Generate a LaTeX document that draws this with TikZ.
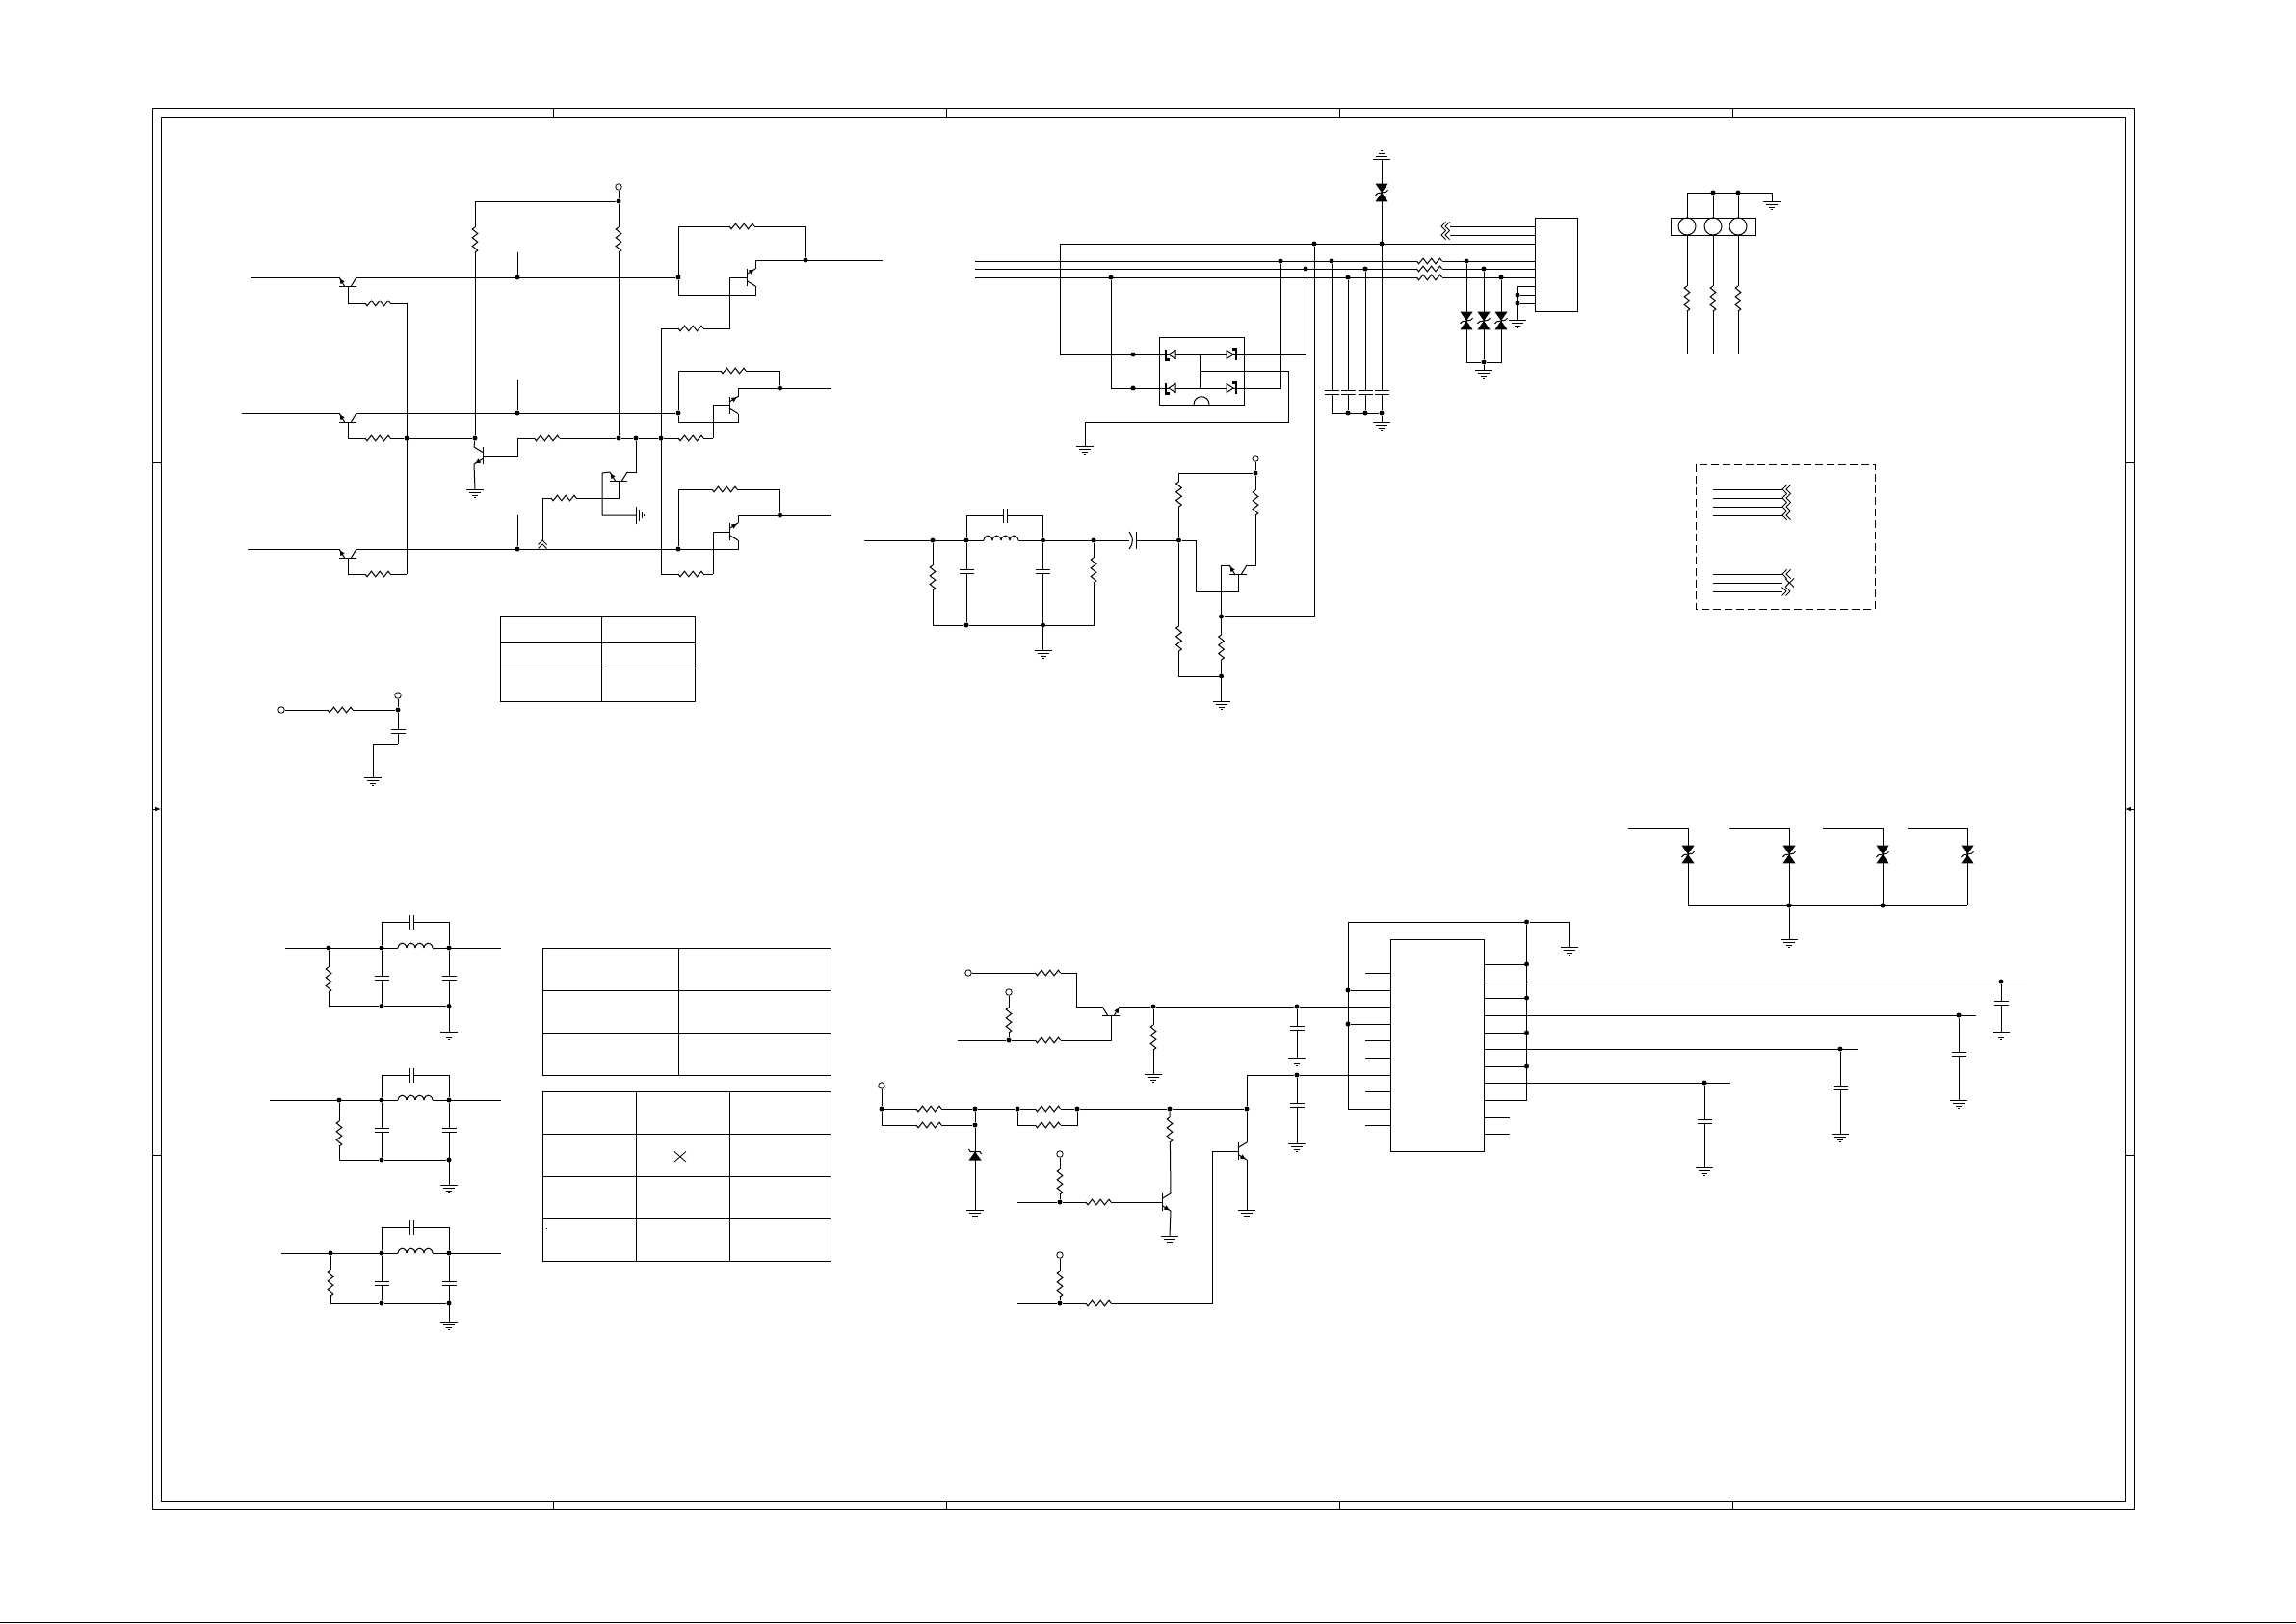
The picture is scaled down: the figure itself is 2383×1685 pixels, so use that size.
\documentclass[tikz,border=0pt]{standalone}
\usetikzlibrary{calc}

\tikzset{
  respic/.pic={
    \fill[white] (-13,-1) rectangle (13,1);
    \draw (-13,0) -- (-11,2.8) -- (-6.5,-2.8) -- (-2.2,2.8) -- (2.2,-2.8) -- (6.5,2.8) -- (11,-2.8) -- (13,0);
  },
  cappic/.pic={
    \fill[white] (-2,-2) rectangle (2,2);
    \draw (-7.5,-2) -- (7.5,-2);
    \draw (-7.5,2) -- (7.5,2);
  },
  indpic/.pic={
    \fill[white] (-18,-1) rectangle (18,1);
    \foreach \i in {-18,-9,0,9}
      \draw (\i,0) .. controls (\i+1,-6.5) and (\i+8,-6.5) .. (\i+9,0);
  },
  gndpic/.pic={
    \draw (-9,0) -- (9,0);
    \draw (-6,3) -- (6,3);
    \draw (-3,6) -- (3,6);
    \draw (-1,8.8) -- (1,8.8);
  },
  tvspic/.pic={
    \fill (-6.5,-9.3) -- (6.5,-9.3) -- (0,0) -- cycle;
    \fill (-6.5,9.3) -- (6.5,9.3) -- (0,0) -- cycle;
    \draw (-6.5,2.8) -- (-4.5,0.8) -- (4.5,-0.8) -- (6.5,-2.8);
  },
  zenpic/.pic={
    \fill (-6.5,4.5) -- (6.5,4.5) -- (0,-4.5) -- cycle;
    \draw (-6.5,-7) -- (-5,-4.5) -- (5,-4.5) -- (6.5,-2);
  },
  chevpic/.pic={
    \draw (4.5,-4.5) -- (0,0) -- (4.5,4.5);
    \draw (8.5,-4.5) -- (4,0) -- (8.5,4.5);
  },
  bjtpic/.pic={
    \draw (0,-9) -- (0,9);
    \draw (0,-3.5) -- (9,-9);
    \draw (0,3.5) -- (9,9);
    \fill (7.5,8.2) -- (1.8,7.6) -- (4.6,3.4) -- cycle;
    \coordinate (-b) at (0,0);
    \coordinate (-c) at (9,-9);
    \coordinate (-e) at (9,9);
  },
  swpic/.pic={
    \draw[line width=2.2bp] (-4,-5.5) -- (-4,5.5) -- (0,5.5);
    \fill[white] (-1,-1) rectangle (6,1);
    \draw (6,-4.5) -- (-1,0) -- (6,4.5) -- cycle;
  }
}

\begin{document}
\begin{tikzpicture}[x=1bp, y=-1bp, line width=1bp]
    \tikzstyle{jdot} = [shape=circle, fill=black, inner sep=0pt, minimum size=5bp]
    \tikzstyle{opin} = [shape=circle, draw=black, fill=white, inner sep=0pt, minimum size=6.5bp, line width=0.8bp]
    \tikzstyle{block} = [shape=rectangle, draw=black, inner sep=0pt, outer sep=0pt]
    \useasboundingbox (0,0) rectangle (2383,1685);

    % frame
    \draw (158,112) rectangle (2215,1567);
    \draw (167,121) rectangle (2206,1558);
    \foreach \x in {574,982,1390,1798} {
        \draw (\x,112) -- (\x,121);
        \draw (\x,1558) -- (\x,1567);
    }
    \foreach \y in {480,1199} {
        \draw (158,\y) -- (167,\y);
        \draw (2206,\y) -- (2215,\y);
    }
    \draw [-latex] (158,840) -- (167,840);
    \draw [-latex] (2215,840) -- (2206,840);
    \draw [line width=1.5bp] (0,1684.4) -- (2383,1684.4);

    % input stages
    \pic (qa1) [rotate=90, yscale=-1] at (361,297) {bjtpic};
    \pic (qa2) [rotate=90, yscale=-1] at (361,438) {bjtpic};
    \pic (qa3) [rotate=90, yscale=-1] at (361,579) {bjtpic};
    \pic (qb1) [yscale=-1] at (775,288) {bjtpic};
    \pic (qb2) [yscale=-1] at (757,420.5) {bjtpic};
    \pic (qb3) [yscale=-1] at (757,552) {bjtpic};
    \pic (qc) [xscale=-1] at (501,473) {bjtpic};
    \pic (qd) [rotate=90, yscale=-1] at (642,499) {bjtpic};

    \coordinate (in1) at (260,288);
    \coordinate (in2) at (251,429);
    \coordinate (in3) at (257,570);
    \coordinate (bt) at (422,315);
    \coordinate (bb) at (422,596);
    \node (jb) [jdot] at (422,455) {};
    \node (jc) [jdot] at (493,455) {};
    \coordinate (cb) at (537,455);
    \node (jv) [jdot] at (642,455) {};
    \node (jq) [jdot] at (660,455) {};
    \node (jr) [jdot] at (686,455) {};
    \coordinate (cs) at (740,455);
    \node (jt) [jdot] at (642,209) {};
    \node (ov) [opin] at (642,194) {};
    \node (js1) [jdot] at (537,288) {};
    \node (js2) [jdot] at (537,429) {};
    \node (js3) [jdot] at (537,570) {};
    \coordinate (st1) at (537,262);
    \coordinate (st2) at (537,394);
    \coordinate (st3) at (537,535);
    \node (jr1) [jdot] at (704,288) {};
    \node (jr2) [jdot] at (704,429) {};
    \node (jr3) [jdot] at (704,570) {};
    \node (jo1) [jdot] at (836,270) {};
    \node (jo2) [jdot] at (809.5,403) {};
    \node (jo3) [jdot] at (809.5,535) {};
    \coordinate (ct1) at (836,235);
    \coordinate (ct2) at (809.5,385);
    \coordinate (ct3) at (809.5,508);
    \coordinate (cl1) at (704,306);
    \coordinate (cl2) at (704,438);
    \coordinate (cd) at (757,341);
    \coordinate (ce) at (686,341);
    \coordinate (cf) at (686,596);
    \coordinate (cg) at (740,596);
    \coordinate (out1) at (916,270);
    \coordinate (out2) at (863,403);
    \coordinate (out3) at (863,535);
    \coordinate (gc) at (493,508);
    \coordinate (gd) at (660,535);
    \coordinate (ch) at (625,491);
    \coordinate (ci) at (563,517);
    \coordinate (cj) at (563,561);

    \draw (in1) -- (qa1-e);
    \draw (in2) -- (qa2-e);
    \draw (in3) -- (qa3-e);
    \draw (qa1-c) -- (jr1);
    \draw (qa2-c) -- (jr2);
    \draw (qa3-c) -| (qb3-c);
    \draw (qa1-b) |- (bt) -- (bb);
    \draw (qa2-b) |- (jb);
    \draw (qa3-b) |- (bb);
    \draw (jb) -- (jc);
    \draw (st1) -- (js1);
    \draw (st2) -- (js2);
    \draw (st3) -- (js3);
    \draw (ov) -- (jt);
    \draw (jt) -| (jc);
    \draw (jt) -- (jv);
    \draw (jc) -- (qc-c);
    \draw (qc-e) -- (gc);
    \draw (qc-b) -| (cb) -- (jv);
    \draw (jv) -- (jq) -- (jr) -- (cs);
    \draw (qd-c) -| (jq);
    \draw (qd-e) -- (ch) |- (gd);
    \draw (qd-b) |- (ci) -- (cj);
    \draw (jr1) |- (ct1) -- (jo1);
    \draw (jr2) |- (ct2) -- (jo2);
    \draw (jr3) |- (ct3) -- (jo3);
    \draw (qb1-e) |- (out1);
    \draw (qb2-e) |- (out2);
    \draw (qb3-e) |- (out3);
    \draw (qb1-c) |- (cl1) -- (jr1);
    \draw (qb2-c) |- (cl2) -- (jr2);
    \draw (qb1-b) -| (cd) -- (ce) -- (cf) -- (cg);
    \draw (qb2-b) -| (cs);
    \draw (qb3-b) -| (cg);

    \foreach \x/\y in {392/315,392/455,392/596,567.5/455,717/341,717/455,717/596,770/235,761/385,752/508,585/517}
        \pic at (\x,\y) {respic};
    \foreach \x in {493,642}
        \pic [rotate=90] at (\x,249) {respic};
    \pic at (gc) {gndpic};
    \pic [rotate=90] at (gd) {gndpic};
    \pic [rotate=-90] at (cj) {chevpic};

    % relay box and connector
    \node (conn) [block, minimum width=44.5bp, minimum height=97bp] at (1615.25,274.5) {};
    \node (relay) [block, minimum width=88bp, minimum height=70bp] at (1247.5,385) {};
    \coordinate (l1) at (1012,271);
    \coordinate (l2) at (1012,279);
    \coordinate (l3) at (1012,288);
    \coordinate (ca) at (1100,253);
    \coordinate (cc) at (1100,368);
    \coordinate (cp) at (1153,403);
    \node (jh) [jdot] at (1364,253) {};
    \node (ji) [jdot] at (1434,253) {};
    \node (j7a) [jdot] at (1329,271) {};
    \node (j7b) [jdot] at (1355,279) {};
    \node (j7c) [jdot] at (1153,288) {};
    \node (j7d) [jdot] at (1176,368) {};
    \node (j7e) [jdot] at (1176,403) {};
    \coordinate (ri1) at (1245.5,368);
    \coordinate (ri2) at (1245.5,403);
    \coordinate (rg) at (1247,385);
    \coordinate (rh) at (1337.5,438);
    \coordinate (gr) at (1126,463);
    \node (jca) [jdot] at (1382,271) {};
    \node (jcb) [jdot] at (1399,288) {};
    \node (jcc) [jdot] at (1417,279) {};
    \coordinate (kca) at (1382,429);
    \node (kcb) [jdot] at (1399,429) {};
    \node (kcc) [jdot] at (1417,429) {};
    \node (kcd) [jdot] at (1434,429) {};
    \coordinate (gu) at (1434,165);
    \coordinate (gk) at (1434,438);
    \node (jza) [jdot] at (1522,271) {};
    \node (jzb) [jdot] at (1540,279) {};
    \node (jzc) [jdot] at (1558,288) {};
    \node (kzb) [jdot] at (1540,376) {};
    \coordinate (gz) at (1540,384);
    \coordinate (pa) at (1575,297);
    \node (pb) [jdot] at (1575,306) {};
    \node (pc) [jdot] at (1575,315) {};
    \coordinate (gp) at (1575,332);
    \coordinate (ta) at (1505,235);
    \coordinate (tb) at (1505,244);

    \draw (l1) -- (l1 -| conn.west);
    \draw (l2) -- (l2 -| conn.west);
    \draw (l3) -- (l3 -| conn.west);
    \draw (ca) -- (ca -| conn.west);
    \draw (ta) -- (ta -| conn.west);
    \draw (tb) -- (tb -| conn.west);
    \draw (pa) -- (pa -| conn.west);
    \draw (pb) -- (pb -| conn.west);
    \draw (pc) -- (pc -| conn.west);
    \draw (pa) -- (gp);
    \draw (j7b) |- (cc) -- (ca);
    \draw (j7a) |- (cp) -- (j7c);
    \draw (ri1) -- (ri2);
    \draw (rg) -| (rh) -| (gr);
    \draw (jca) |- (kcd);
    \draw (jcb) -- (kcb);
    \draw (jcc) -- (kcc);
    \draw (gu) -- (kcd) -- (gk);
    \draw (jza) |- (kzb);
    \draw (jzc) |- (kzb);
    \draw (jzb) -- (kzb) -- (gz);

    \foreach \x/\y in {1214/368,1214/403}
        \pic at (\x,\y) {swpic};
    \foreach \x/\y in {1279/368,1279/403}
        \pic [xscale=-1, yscale=-1] at (\x,\y) {swpic};
    \draw (1239,420) .. controls (1239,409) and (1255,409) .. (1255,420);
    \foreach \y in {271,279,288}
        \pic at (1483.5,\y) {respic};
    \foreach \x in {1382,1399,1417,1434}
        \pic at (\x,407) {cappic};
    \foreach \x in {1522,1540,1558}
        \pic at (\x,333) {tvspic};
    \pic at (1434,200) {tvspic};
    \pic [yscale=-1] at (gu) {gndpic};
    \pic at (gk) {gndpic};
    \pic at (gr) {gndpic};
    \pic at (gz) {gndpic};
    \pic at (gp) {gndpic};
    \pic at (1496,235) {chevpic};
    \pic at (1496,244) {chevpic};

    % mid filter and emitter follower
    \coordinate (fi) at (897,561);
    \node (f1) [jdot] at (968,561) {};
    \node (f2) [jdot] at (1003,561) {};
    \node (f3) [jdot] at (1082.5,561) {};
    \node (f4) [jdot] at (1135,561) {};
    \node (f5) [jdot] at (1223.5,561) {};
    \coordinate (fa) at (968,649);
    \node (fb) [jdot] at (1003,649) {};
    \node (fc) [jdot] at (1082.5,649) {};
    \coordinate (fd) at (1135,649);
    \coordinate (fg) at (1082.5,675);
    \coordinate (fe) at (1082.5,535);
    \pic (qg) [rotate=90, yscale=-1] at (1285,596) {bjtpic};
    \coordinate (ga) at (1223.5,491);
    \node (gb) [jdot] at (1303,491) {};
    \node (go) [opin] at (1303,476) {};
    \coordinate (gc2) at (1303,587);
    \coordinate (gd2) at (1267.5,587);
    \node (ge) [jdot] at (1267.5,640) {};
    \node (gf) [jdot] at (1267.5,702) {};
    \coordinate (gg) at (1223.5,702);
    \coordinate (gh) at (1241.6,614);
    \coordinate (gj) at (1267.5,728);

    \draw (fi) -- (f5);
    \draw (f1) |- (fb);
    \draw (f4) |- (fb);
    \draw (f2) -- (fb);
    \draw (f3) -- (fg);
    \draw (f2) |- (fe) -- (f3);
    \draw (f5) -- (ga) -- (gb) -- (gc2) -- (qg-c);
    \draw (go) -- (gb);
    \draw (f5) -- (gg) -- (gf);
    \draw (qg-e) -- (gd2) -- (gj);
    \draw (qg-b) |- (gh) |- (f5);
    \draw (ge) -| (jh);

    \foreach \x/\y in {968/600,1135/592,1223.5/513,1223.5/663,1303/522,1267.5/672}
        \pic [rotate=90] at (\x,\y) {respic};
    \foreach \x in {1003,1082.5}
        \pic at (\x,593) {cappic};
    \pic [rotate=90] at (1043.5,535) {cappic};
    \pic at (1039,561) {indpic};
    \fill[white] (1172,559) rectangle (1180,563);
    \draw (1179,552) -- (1179,570);
    \draw (1172,552) .. controls (1176.5,557) and (1176.5,565) .. (1172,570);
    \pic at (fg) {gndpic};
    \pic at (gj) {gndpic};

    % pin header
    \node (strip) [block, minimum width=88bp, minimum height=18bp] at (1778,235) {};
    \coordinate (ha) at (1751,200);
    \node (hb) [jdot] at (1778,200) {};
    \node (hc) [jdot] at (1804,200) {};
    \coordinate (hd) at (1839,209);
    \foreach \n/\x in {1/1751,2/1778,3/1804} {
        \node (hole\n) [shape=circle, draw=black, inner sep=0pt, minimum size=18bp] at (\x,235) {};
        \coordinate (hend\n) at (\x,368);
        \draw (hole\n) -- (hend\n);
        \pic [rotate=90] at (\x,310) {respic};
    }
    \draw (ha) -- (hole1);
    \draw (hb) -- (hole2);
    \draw (hc) -- (hole3);
    \draw (ha) -| (hd);
    \pic at (hd) {gndpic};

    % dashed legend
    \draw [dash pattern=on 8bp off 4bp] (1760,482) rectangle (1946,632);
    \foreach \y in {508,517,526,535} {
        \coordinate (la\y) at (1778,\y);
        \coordinate (lb\y) at (1850,\y);
        \draw (la\y) -- (lb\y);
        \pic at (lb\y) {chevpic};
    }
    \foreach \y in {596,605,614} {
        \coordinate (la\y) at (1778,\y);
        \coordinate (lb\y) at (1850,\y);
        \draw (la\y) -- (lb\y);
    }
    \pic at (lb596) {chevpic};
    \pic [xscale=-1] at (1858,614) {chevpic};
    \draw (1853,600.5) -- (1857,605) -- (1853,609.5);
    \draw (1862,600.5) -- (1857.5,605) -- (1862,609.5);

    % small tables
    \draw (519.3,640) rectangle (721,728);
    \draw (519.3,667) -- (721,667);
    \draw (519.3,693) -- (721,693);
    \draw (624,640) -- (624,728);
    \draw (563.4,984) rectangle (862,1116);
    \draw (563.4,1028) -- (862,1028);
    \draw (563.4,1072) -- (862,1072);
    \draw (704.5,984) -- (704.5,1116);
    \draw (563.4,1133) rectangle (862,1309);
    \foreach \y in {1177,1221,1265}
        \draw (563.4,\y) -- (862,\y);
    \foreach \x in {660,757.5}
        \draw (\x,1133) -- (\x,1309);
    \draw [line width=0.8bp] (700,1195.5) -- (712,1206);
    \draw [line width=0.8bp] (712,1195.5) -- (700,1206);
    \fill (566.5,1274.7) rectangle (568,1275.7);

    % rc network
    \node (ra) [opin] at (292,737) {};
    \node (rb) [opin] at (413,722) {};
    \node (rc) [jdot] at (413,737) {};
    \coordinate (rd) at (413,772);
    \coordinate (re) at (387,807);
    \draw (ra) -- (rc);
    \draw (rb) -- (rc) -- (rd);
    \draw (rd) -| (re);
    \pic at (353,737) {respic};
    \pic at (413,759.5) {cappic};
    \pic at (re) {gndpic};

    % three filters
    \foreach \n/\yt/\yl/\yb/\yc/\xi/\xr/\yr/\yg in {a/957/984/1044.5/1015/296/341/1017/1071, b/1116/1142/1204/1173/280/352/1177/1230, c/1274/1301/1353/1332/292/343/1332/1372} {
        \coordinate (p\n i) at (\xi,\yl);
        \coordinate (p\n o) at (519.5,\yl);
        \node (p\n r) [jdot] at (\xr,\yl) {};
        \node (p\n c) [jdot] at (396,\yl) {};
        \node (p\n d) [jdot] at (466,\yl) {};
        \node (p\n e) [jdot] at (396,\yb) {};
        \node (p\n f) [jdot] at (466,\yb) {};
        \coordinate (p\n t) at (466,\yt);
        \coordinate (p\n g) at (466,\yg);
        \draw (p\n i) -- (p\n o);
        \draw (p\n r) |- (p\n e);
        \draw (p\n c) -- (p\n e) -- (p\n f);
        \draw (p\n c) |- (p\n t) -- (p\n d);
        \draw (p\n d) -- (p\n g);
        \pic [rotate=90] at (\xr,\yr) {respic};
        \pic at (396,\yc) {cappic};
        \pic at (466,\yc) {cappic};
        \pic [rotate=90] at (427,\yt) {cappic};
        \pic at (431,\yl) {indpic};
        \pic at (p\n g) {gndpic};
    }

    % regulator and switch stage
    \pic (qe) [rotate=90] at (1153,1054) {bjtpic};
    \pic (qf) at (1206,1248) {bjtpic};
    \pic (qh) at (1285,1195) {bjtpic};
    \node (ic) [block, minimum width=97bp, minimum height=220bp] at (1492,1085) {};
    \node (o1) [opin] at (1005,1010) {};
    \coordinate (a1) at (1117.5,1010);
    \node (o2) [opin] at (1047,1030) {};
    \node (a2) [jdot] at (1047,1080) {};
    \coordinate (a3) at (994,1080);
    \node (a4) [jdot] at (1197,1045) {};
    \node (a5) [jdot] at (1346,1045) {};
    \coordinate (a6) at (1197,1115);
    \coordinate (a7) at (1346,1098);
    \node (o3) [opin] at (915,1127) {};
    \node (b1) [jdot] at (915,1151) {};
    \node (b2) [jdot] at (1012,1151) {};
    \node (b3) [jdot] at (1056,1151) {};
    \node (b4) [jdot] at (1118,1151) {};
    \node (b5) [jdot] at (1214,1151) {};
    \node (b6) [jdot] at (1294,1151) {};
    \node (b7) [jdot] at (1012,1168) {};
    \coordinate (b8) at (1118,1168);
    \coordinate (b9) at (1012,1256);
    \node (b10) [jdot] at (1346,1116) {};
    \coordinate (b11) at (1346,1187);
    \coordinate (c1) at (1056,1248);
    \node (c2) [jdot] at (1100,1248) {};
    \node (o4) [opin] at (1100,1198) {};
    \coordinate (c3) at (1214,1283);
    \coordinate (d1) at (1056,1353);
    \node (d2) [jdot] at (1100,1353) {};
    \node (o5) [opin] at (1100,1303) {};
    \coordinate (d3) at (1258,1353);
    \coordinate (d4) at (1294,1256);

    \draw (o1) -- (a1) |- (qe-c);
    \draw (qe-e) -- (a4) -- (a5) -- (a5 -| ic.west);
    \draw (qe-b) |- (a2) -- (a3);
    \draw (o2) -- (a2);
    \draw (a4) -- (a6);
    \draw (a5) -- (a7);
    \draw (o3) -- (b1) -- (b2) -- (b3) -- (b4) -- (b5) -- (b6);
    \draw (b1) |- (b7);
    \draw (b2) -- (b7) -- (b9);
    \draw (b3) |- (b8) -- (b4);
    \draw (b5) -- (qf-c);
    \draw (qf-e) -- (c3);
    \draw (c1) -- (c2) -- (qf-b);
    \draw (o4) -- (c2);
    \draw (d1) -- (d2) -- (d3) |- (qh-b);
    \draw (o5) -- (d2);
    \draw (b6) -- (qh-c);
    \draw (qh-e) -- (d4);
    \draw (b6) |- (b10) -- (b10 -| ic.west);
    \draw (b10) -- (b11);

    \foreach \x/\y in {1087.5/1010,1087.5/1080,964/1151,964/1168,1087.5/1151,1087.5/1168,1140/1248,1140/1353}
        \pic at (\x,\y) {respic};
    \foreach \x/\y in {1047/1059,1197/1077,1214/1173,1100/1227,1100/1333}
        \pic [rotate=90] at (\x,\y) {respic};
    \pic at (1346,1067) {cappic};
    \pic at (1346,1147) {cappic};
    \pic at (1012,1200) {zenpic};
    \foreach \c in {a6,a7,b9,b11,c3,d4}
        \pic at (\c) {gndpic};

    % ic pins
    \coordinate (i1) at (1399,957);
    \node (i2) [jdot] at (1584.5,957) {};
    \coordinate (i3) at (1628.6,983);
    \coordinate (i4) at (1399,1151);
    \node (i5) [jdot] at (1399,1028) {};
    \node (i6) [jdot] at (1399,1063) {};
    \coordinate (i7) at (1584.5,1142);
    \draw (i4) -- (i1) -- (i2) -| (i3);
    \draw (i4) -- (i4 -| ic.west);
    \draw (i5) -- (i5 -| ic.west);
    \draw (i6) -- (i6 -| ic.west);
    \draw (i2) -- (i7) -- (i7 -| ic.east);
    \foreach \y in {1001,1036,1072,1107} {
        \node (k\y) [jdot] at (1584.5,\y) {};
        \draw (k\y) -- (k\y -| ic.east);
    }
    \foreach \y in {1010,1080,1098,1133,1168}
        \draw (ic.west |- 0,\y) -- (1417,\y);
    \foreach \y in {1160,1177}
        \draw (ic.east |- 0,\y) -- (1567,\y);
    \foreach \y/\x/\xe/\yc/\yg in {1019/2077/2104/1041/1071,1054/2033/2051/1094/1142,1089/1910/1928/1129/1177,1124/1769/1796/1164/1212} {
        \node (m\x) [jdot] at (\x,\y) {};
        \coordinate (e\x) at (\xe,\y);
        \coordinate (g\x) at (\x,\yg);
        \draw (ic.east |- m\x) -- (e\x);
        \draw (m\x) -- (g\x);
        \pic at (\x,\yc) {cappic};
        \pic at (g\x) {gndpic};
    }
    \pic at (i3) {gndpic};

    % tvs row
    \node (v2) [jdot] at (1857,940) {};
    \node (v3) [jdot] at (1954,940) {};
    \coordinate (v1) at (1752,940);
    \coordinate (v4) at (2042,940);
    \coordinate (vg) at (1857,975);
    \draw (v1) -- (v4);
    \draw (v2) -- (vg);
    \foreach \xa/\xb in {1690/1752,1795/1857,1892/1954,1980/2042} {
        \coordinate (w\xa) at (\xa,860);
        \coordinate (x\xb) at (\xb,940);
        \draw (w\xa) -| (x\xb);
        \pic at (\xb,887) {tvspic};
    }
    \pic at (vg) {gndpic};
\end{tikzpicture}
\end{document}
